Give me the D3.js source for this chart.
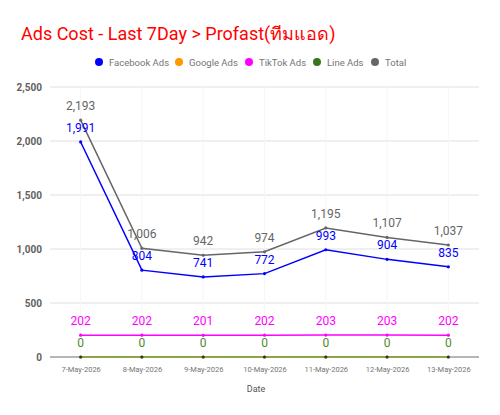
<!DOCTYPE html>
<html>
<head>
<meta charset="utf-8">
<script src="https://cdn.jsdelivr.net/npm/d3@7"></script>
<style>
  body { margin: 0; background: #fff; }
  svg text { font-family: Roboto, "Noto Sans", sans-serif; }
</style>
</head>
<body>
<div id="chart"></div>
<script>
const dates = ["7-May-2026", "8-May-2026", "9-May-2026", "10-May-2026", "11-May-2026", "12-May-2026", "13-May-2026"];
const facebookAds = [1991, 804, 741, 772, 993, 904, 835];
const googleAds = [0, 0, 0, 0, 0, 0, 0];
const tiktokAds = [202, 202, 201, 202, 203, 203, 202];
const lineAds = [0, 0, 0, 0, 0, 0, 0];
const totalAds = [2193, 1006, 942, 974, 1195, 1107, 1037];
const yTicks = [0, 500, 1000, 1500, 2000, 2500];

const width = 500, height = 415;
const margin = { top: 87, right: 21, bottom: 58, left: 50 };

const series = [
  { name: "Facebook Ads", values: facebookAds, color: "#0000ff", labels: true },
  { name: "Google Ads", values: googleAds, color: "#ff9900", labels: false },
  { name: "TikTok Ads", values: tiktokAds, color: "#ff00ff", labels: true },
  { name: "Line Ads", values: lineAds, color: "#38761d", labels: true },
  { name: "Total", values: totalAds, color: "#666666", labels: true }
];

const svg = d3.select("#chart").append("svg")
  .attr("width", width)
  .attr("height", height);

const x = d3.scalePoint()
  .domain(dates)
  .range([margin.left, width - margin.right])
  .padding(0.5);

const y = d3.scaleLinear()
  .domain([0, 2500])
  .range([height - margin.bottom, margin.top]);

// title
svg.append("text")
  .attr("x", 21)
  .attr("y", 40)
  .attr("fill", "#ff0000")
  .attr("font-size", 18)
  .text("Ads Cost - Last 7Day > Profast(ทีมแอด)");

// legend
const legendX = [99, 179, 249, 317, 375];
const legend = svg.append("g");
series.forEach(function (s, i) {
  legend.append("circle")
    .attr("cx", legendX[i])
    .attr("cy", 62)
    .attr("r", 4)
    .attr("fill", s.color);
  legend.append("text")
    .attr("x", legendX[i] + 10)
    .attr("y", 65.5)
    .attr("fill", "#757575")
    .attr("font-size", 9.5)
    .text(s.name);
});

// gridlines
svg.append("g")
  .selectAll("line")
  .data(yTicks.slice(1))
  .join("line")
  .attr("x1", margin.left)
  .attr("x2", width - margin.right)
  .attr("y1", d => y(d))
  .attr("y2", d => y(d))
  .attr("stroke", "#e0e0e0")
  .attr("stroke-width", 1);

// faint vertical lines at each date
svg.append("g")
  .selectAll("line")
  .data(dates)
  .join("line")
  .attr("x1", d => x(d))
  .attr("x2", d => x(d))
  .attr("y1", margin.top)
  .attr("y2", y(0))
  .attr("stroke", "#f6f6f6")
  .attr("stroke-width", 1);

// y axis labels
const yAxis = svg.append("g")
  .attr("transform", "translate(" + (margin.left - 5) + ",0)")
  .call(d3.axisLeft(y).tickValues(yTicks).tickFormat(d3.format(",")).tickSize(0));
yAxis.select(".domain").remove();
yAxis.selectAll("text")
  .attr("fill", "#616161")
  .attr("font-size", 10)
  .attr("font-weight", "bold")
  .attr("font-family", "Roboto, sans-serif");

// baseline
svg.append("line")
  .attr("x1", margin.left)
  .attr("x2", width - margin.right)
  .attr("y1", y(0))
  .attr("y2", y(0))
  .attr("stroke", "#9e9e9e")
  .attr("stroke-width", 1.5);

// x axis
const xAxis = svg.append("g")
  .attr("transform", "translate(0," + y(0) + ")")
  .call(d3.axisBottom(x).tickSize(0).tickPadding(10));
xAxis.select(".domain").remove();
xAxis.selectAll("text")
  .attr("fill", "#757575")
  .attr("font-size", 7.5)
  .attr("font-family", "Roboto, sans-serif");

svg.append("text")
  .attr("x", 256)
  .attr("y", 392)
  .attr("text-anchor", "middle")
  .attr("fill", "#555555")
  .attr("font-size", 9)
  .text("Date");

// lines
const line = d3.line()
  .x((d, i) => x(dates[i]))
  .y(d => y(d));

const drawOrder = [4, 0, 1, 2, 3];
drawOrder.forEach(function (k) {
  const s = series[k];
  svg.append("path")
    .datum(s.values)
    .attr("fill", "none")
    .attr("stroke", k === 3 ? "#6aa84f" : s.color)
    .attr("stroke-width", 1.5)
    .attr("d", line);
  svg.append("g")
    .selectAll("circle")
    .data(s.values)
    .join("circle")
    .attr("cx", (d, i) => x(dates[i]))
    .attr("cy", d => y(d))
    .attr("r", 1.6)
    .attr("fill", k === 3 ? "#333333" : s.color);
});

// data labels
const fmt = d3.format(",");
series.forEach(function (s) {
  if (!s.labels) return;
  svg.append("g")
    .selectAll("text")
    .data(s.values)
    .join("text")
    .attr("x", (d, i) => x(dates[i]))
    .attr("y", d => y(d) - 10)
    .attr("text-anchor", "middle")
    .attr("fill", s.color === "#38761d" ? "#4f8a2f" : s.color)
    .attr("font-size", 12)
    .text(d => fmt(d));
});
</script>
</body>
</html>
